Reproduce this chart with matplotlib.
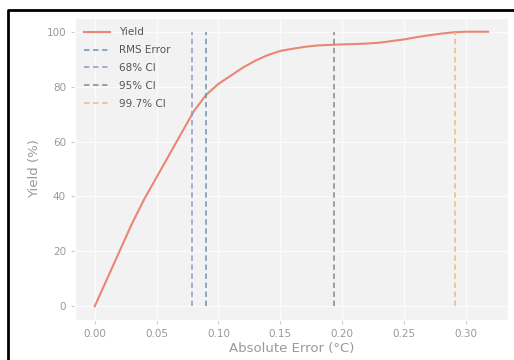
import numpy as np
import matplotlib
matplotlib.use('Agg')
import matplotlib.pyplot as plt
from matplotlib.lines import Line2D

plt.style.use('ggplot')

# yield curve
abs_err = [0.00, 0.01, 0.02, 0.03, 0.04, 0.05, 0.06, 0.07, 0.08, 0.09,
           0.10, 0.11, 0.12, 0.13, 0.14, 0.15, 0.16, 0.17, 0.18, 0.19,
           0.20, 0.21, 0.22, 0.23, 0.24, 0.25, 0.26, 0.27, 0.28, 0.29,
           0.30, 0.31, 0.318]
yield_pct = [0, 10, 20, 30, 39, 47, 55, 63, 71, 77,
             81, 84, 87, 89.5, 91.5, 93, 93.8, 94.5, 95, 95.2,
             95.4, 95.5, 95.7, 96, 96.6, 97.2, 98, 98.7, 99.3, 99.8,
             100, 100, 100]

# reference lines
ref_names = ['RMS Error', '68% CI', '95% CI', '99.7% CI']
ref_values = [0.090, 0.079, 0.193, 0.291]
ref_colors = ['#6f93b3', '#9a94c8', '#888888', '#f5b77a']

text_col = '#999999'

fig = plt.figure(figsize=(5.14, 3.6), dpi=100)
ax = fig.add_axes([0.146, 0.111, 0.842, 0.839])
ax.set_facecolor('#f2f2f2')
ax.grid(color='#fbfbfb', lw=1)

ax.plot(abs_err, yield_pct, color='#e8735f', lw=1.5, alpha=0.85, label='Yield')
for name, val, col in zip(ref_names, ref_values, ref_colors):
    ax.vlines(val, 0, 100, colors=col, linestyles=(0, (3, 2)), lw=1.3,
              alpha=0.85, label=name)

ax.set_xlabel('Absolute Error (°C)', fontsize=9.5, color=text_col, labelpad=2)
ax.set_ylabel('Yield (%)', fontsize=9.5, color=text_col)
ax.tick_params(colors='#cccccc', labelcolor=text_col, labelsize=7.5, length=3)
ax.set_xticks([0, 0.05, 0.10, 0.15, 0.20, 0.25, 0.30])
ax.set_yticks([0, 20, 40, 60, 80, 100])

leg = ax.legend(loc='upper left', fontsize=7.5, frameon=False,
                labelspacing=0.75, handlelength=2.5, borderaxespad=0.5)
for t in leg.get_texts():
    t.set_color('#555555')

# partial black frame of the screenshot
fig.add_artist(Line2D([8 / 514, 8 / 514, 1.0], [0.0, 1 - 10 / 360, 1 - 10 / 360],
                      transform=fig.transFigure, color='black', lw=2))

fig.savefig('out.png', dpi=100)
